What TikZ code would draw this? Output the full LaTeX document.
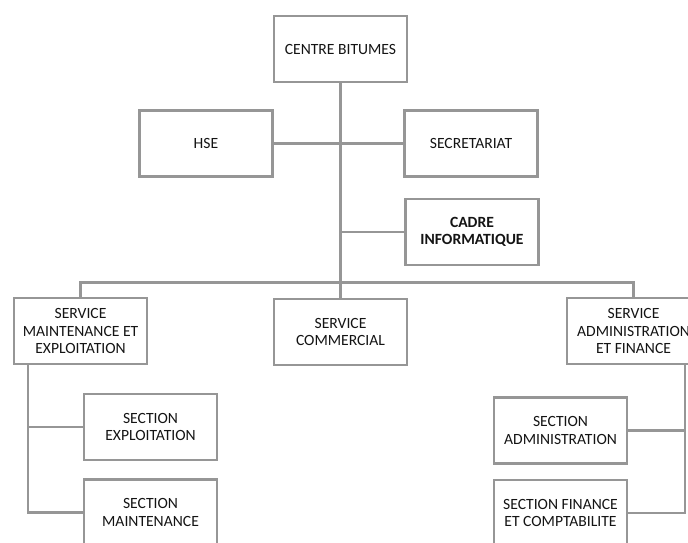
\documentclass[tikz,border=0pt]{standalone}
\usepackage{fontspec}
\setmainfont{Carlito}
\usetikzlibrary{backgrounds}
\definecolor{linegray}{RGB}{150,150,150}
\definecolor{textdark}{RGB}{20,20,20}
\begin{document}
\begin{tikzpicture}[x=1pt,y=-1pt,
  orgbox/.style={draw=linegray, line width=2.6pt, fill=white, align=center,
    minimum width=133pt, minimum height=66pt, inner sep=0pt, text=textdark,
    font=\fontsize{15.6}{17.2}\selectfont},
  link/.style={draw=linegray, line width=2.8pt}]
\useasboundingbox (0,0) rectangle (688,543);
\clip (0,0) rectangle (688,543);

% trunk positions of the two side branches
\coordinate (lt) at (28,364);
\coordinate (rt) at (685,364);

% top level
\node[orgbox] (top)   at (340.5,49)   {CENTRE BITUMES};
\node[orgbox] (hse)   at (206,143.5)  {HSE};
\node[orgbox] (sec)   at (471,143.5)  {SECRETARIAT};
\node[orgbox, font=\fontsize{15.6}{17.2}\selectfont\bfseries] (cadre) at (472,232) {CADRE\\INFORMATIQUE};

% services
\node[orgbox] (smet)  at (80.5,331)   {SERVICE\\MAINTENANCE ET\\EXPLOITATION};
\node[orgbox] (sc)    at (340.5,332)  {SERVICE\\COMMERCIAL};
\node[orgbox] (saf)   at (633.5,331)  {SERVICE\\ADMINISTRATION\\ET FINANCE};

% sections
\node[orgbox] (sexp)  at (150.5,427)  {SECTION\\EXPLOITATION};
\node[orgbox] (smaint) at (150.5,512.5) {SECTION\\MAINTENANCE};
\node[orgbox] (sadm)  at (560.5,430.5) {SECTION\\ADMINISTRATION};
\node[orgbox] (sfin)  at (560.5,513)  {SECTION FINANCE\\ET COMPTABILITE};

% links, behind the boxes
\begin{scope}[on background layer]
\path[link] (top.south) -- (sc.north);
\path[link] (hse.east) -- (sec.west);
\path[link] (cadre.west) -- (cadre.west -| top.south);
\path[link] (smet.north) -- ++(0,-14) -| (saf.north);
\path[link] (lt) |- (smaint.west);
\path[link] (lt |- sexp.west) -- (sexp.west);
\path[link] (rt) |- (sfin.east);
\path[link] (sadm.east) -- (sadm.east -| rt);
\end{scope}
\end{tikzpicture}
\end{document}
